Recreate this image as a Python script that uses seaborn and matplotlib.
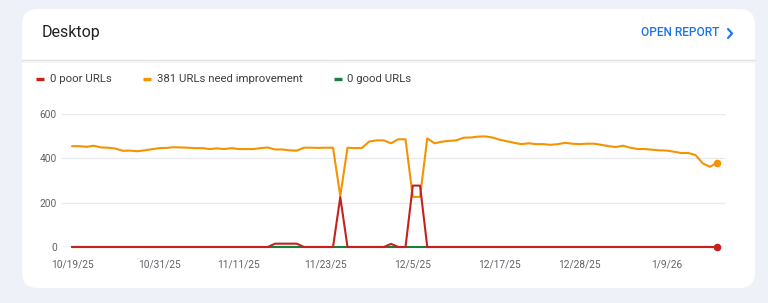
import matplotlib
matplotlib.use("Agg")
import numpy as np
import pandas as pd
import matplotlib.pyplot as plt
import seaborn as sns
from matplotlib.patches import FancyBboxPatch
from matplotlib.lines import Line2D
from matplotlib.transforms import IdentityTransform

# ---------------- data ----------------
start_date = "2025-10-19"
end_date = "2026-01-16"

needs_improvement = [
    455, 455, 452, 457, 449, 448, 444, 434, 435, 432,
    436, 441, 446, 447, 450, 449, 448, 446, 446, 442,
    445, 442, 446, 442, 442, 442, 446, 449, 440, 440,
    436, 435, 448, 448, 447, 448, 448, 230, 448, 446,
    447, 476, 481, 481, 468, 486, 486, 226, 226, 490,
    468, 475, 479, 481, 493, 494, 498, 499, 494, 484,
    477, 470, 464, 468, 464, 464, 461, 464, 470, 466,
    464, 466, 466, 461, 455, 451, 457, 448, 442, 442,
    439, 436, 435, 430, 424, 424, 415, 377, 362, 381,
]
poor = [
    0, 0, 0, 0, 0, 0, 0, 0, 0, 0,
    0, 0, 0, 0, 0, 0, 0, 0, 0, 0,
    0, 0, 0, 0, 0, 0, 0, 0, 15, 15,
    15, 15, 0, 0, 0, 0, 0, 225, 0, 0,
    0, 0, 0, 0, 14, 0, 0, 277, 277, 0,
    0, 0, 0, 0, 0, 0, 0, 0, 0, 0,
    0, 0, 0, 0, 0, 0, 0, 0, 0, 0,
    0, 0, 0, 0, 0, 0, 0, 0, 0, 0,
    0, 0, 0, 0, 0, 0, 0, 0, 0, 0,
]
good = [
    0, 0, 0, 0, 0, 0, 0, 0, 0, 0,
    0, 0, 0, 0, 0, 0, 0, 0, 0, 0,
    0, 0, 0, 0, 0, 0, 0, 0, 0, 0,
    0, 0, 0, 0, 0, 0, 0, 0, 0, 0,
    0, 0, 0, 0, 0, 0, 0, 0, 0, 0,
    0, 0, 0, 0, 0, 0, 0, 0, 0, 0,
    0, 0, 0, 0, 0, 0, 0, 0, 0, 0,
    0, 0, 0, 0, 0, 0, 0, 0, 0, 0,
    0, 0, 0, 0, 0, 0, 0, 0, 0, 0,
]
legend_labels = ["0 poor URLs", "381 URLs need improvement", "0 good URLs"]
x_tick_labels = ["10/19/25", "10/31/25", "11/11/25", "11/23/25",
                 "12/5/25", "12/17/25", "12/28/25", "1/9/26"]
y_ticks = [0, 200, 400, 600]
title = "Desktop"
link_text = "OPEN REPORT"

# ---------------- style ----------------
RED = "#c5221f"
ORANGE = "#f59300"
GREEN = "#188038"
BG = "#eef2f8"
W, H = 768, 303

sns.set_theme(style="white")
plt.rcParams["font.family"] = ["Roboto", "DejaVu Sans"]

dates = pd.date_range(start_date, end_date, freq="D")
df = pd.DataFrame({"date": dates, "poor": poor,
                   "ni": needs_improvement, "good": good})

fig = plt.figure(figsize=(W / 100, H / 100), dpi=100)
fig.patch.set_facecolor(BG)

# card
card = FancyBboxPatch((22, H - 288), 733, 279,
                      boxstyle="round,pad=0,rounding_size=16",
                      transform=IdentityTransform(), facecolor="white",
                      edgecolor="none", zorder=-10)
fig.patches.append(card)
fig.lines.append(Line2D([22, 755], [H - 60, H - 60], transform=IdentityTransform(),
                        color="#dfe1e5", lw=1.0))
fig.lines.append(Line2D([22, 755], [H - 61.5, H - 61.5], transform=IdentityTransform(),
                        color="#f1f3f4", lw=1.2))

# header
fig.text(42 / W, 1 - 32 / H, title, fontsize=11.5, color="#202124",
         va="center", ha="left")
fig.text(641 / W, 1 - 33 / H, link_text, fontsize=8.6, color="#1a73e8",
         va="center", ha="left", fontweight="medium")
fig.lines.append(Line2D([728, 732, 728], [H - 29, H - 33.5, H - 38],
                        transform=IdentityTransform(), color="#1a73e8", lw=1.5,
                        solid_joinstyle="miter"))

# legend
for (x0, xt, col, lab) in [(36, 50, RED, legend_labels[0]),
                           (143, 157, ORANGE, legend_labels[1]),
                           (334, 347, GREEN, legend_labels[2])]:
    fig.lines.append(Line2D([x0, x0 + 8], [H - 79, H - 79], transform=IdentityTransform(),
                            color=col, lw=2.4, solid_capstyle="butt"))
    fig.text(xt / W, 1 - 79 / H, lab, fontsize=8.2, color="#3c4043",
             va="center", ha="left")

# axes
ax = fig.add_axes([62 / W, 1 - 247 / H, (726 - 62) / W, (247 - 114) / H])
ax.set_zorder(10)
ax.set_facecolor("none")
ax.patch.set_alpha(0)
for s in ax.spines.values():
    s.set_visible(False)

for yv in y_ticks[1:]:
    ax.axhline(yv, color="#e8eaed", lw=0.9, zorder=0)
ax.axhline(0, color="#b0b4b9", lw=1.0, zorder=0)

sns.lineplot(data=df, x="date", y="good", color=GREEN, lw=1.5, ax=ax,
             estimator=None, clip_on=False, zorder=2)
sns.lineplot(data=df, x="date", y="ni", color=ORANGE, lw=1.5, ax=ax,
             estimator=None, clip_on=False, zorder=3)
sns.lineplot(data=df, x="date", y="poor", color=RED, lw=1.5, ax=ax,
             estimator=None, clip_on=False, zorder=4)
last = df.iloc[[-1]]
sns.scatterplot(data=last, x="date", y="ni", color=ORANGE, s=30, ax=ax,
                linewidth=0, clip_on=False, zorder=5)
sns.scatterplot(data=last, x="date", y="poor", color=RED, s=30, ax=ax,
                linewidth=0, clip_on=False, zorder=5)

ax.set_ylim(0, 600)
ax.set_xlim(dates[0] - pd.Timedelta(days=1.38), dates[0] + pd.Timedelta(days=90.2))
ax.set_yticks(y_ticks)
ax.set_yticklabels([str(v) for v in y_ticks])
tick_dates = pd.to_datetime(x_tick_labels, format="%m/%d/%y")
ax.set_xticks(tick_dates)
ax.set_xticklabels(x_tick_labels)
ax.tick_params(axis="both", length=0, labelsize=7.3, colors="#5f6368")
ax.tick_params(axis="y", pad=3.8)
ax.tick_params(axis="x", pad=9)
ax.set_xlabel("")
ax.set_ylabel("")
ax.grid(False)

fig.savefig("out.png", dpi=100, facecolor=BG)
